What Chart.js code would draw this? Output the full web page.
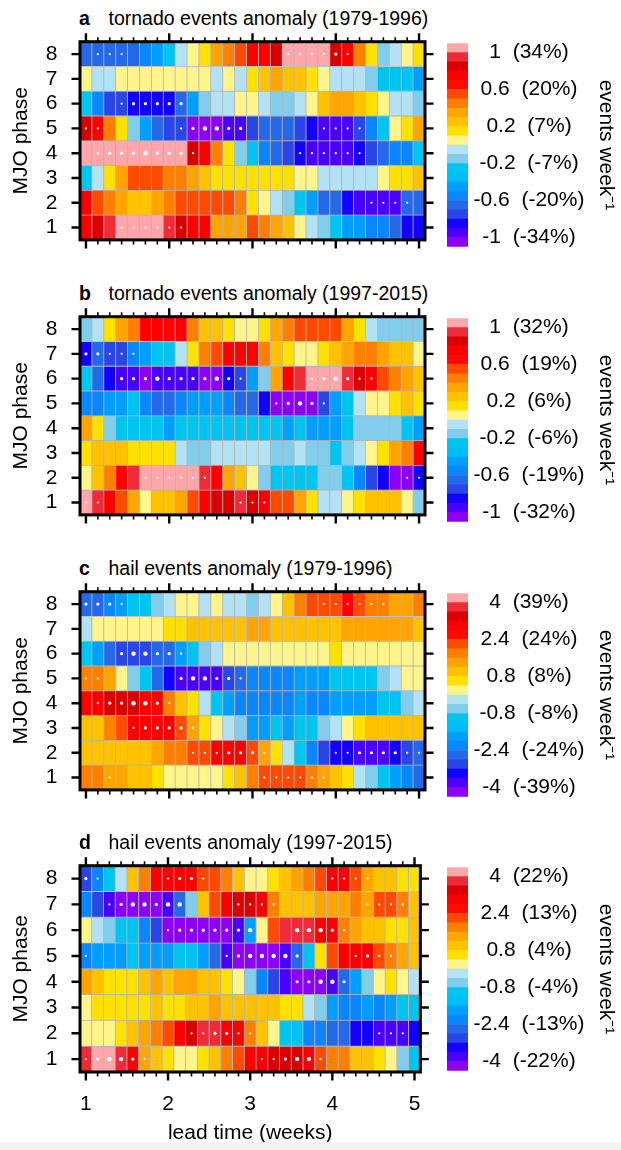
<!DOCTYPE html>
<html>
<head>
<meta charset="utf-8">
<script src="https://cdn.jsdelivr.net/npm/chart.js@4.4.1/dist/chart.umd.min.js"></script>
<style>
  body { margin: 0; background: #fff; width: 621px; height: 1150px; overflow: hidden; position: relative;
         font-family: "Liberation Sans", Arial, Helvetica, sans-serif; color: #000; }
  .panel { position: absolute; left: 0; width: 621px; }
  .panel canvas { position: absolute; top: 0; }
  .ttl { position: absolute; top: 8.2px; font-size: 19.5px; line-height: 20px; white-space: nowrap; }
  .ttl b { position: absolute; left: 79px; }
  .ttl span { position: absolute; left: 108.5px; }
  .foot { position: absolute; left: 0; top: 1142px; width: 621px; height: 8px; background: #f4f4f4; }
</style>
</head>
<body>

<div class="panel" style="top:0px;height:275px">
  <div class="ttl"><b>a</b><span>tornado events anomaly (1979-1996)</span></div>
  <canvas id="hmA" width="440" height="275" style="left:0"></canvas>
  <canvas id="cbA" width="181" height="275" style="left:440px"></canvas>
</div>
<div class="panel" style="top:275px;height:275px">
  <div class="ttl"><b>b</b><span>tornado events anomaly (1997-2015)</span></div>
  <canvas id="hmB" width="440" height="275" style="left:0"></canvas>
  <canvas id="cbB" width="181" height="275" style="left:440px"></canvas>
</div>
<div class="panel" style="top:550px;height:275px">
  <div class="ttl"><b>c</b><span>hail events anomaly (1979-1996)</span></div>
  <canvas id="hmC" width="440" height="275" style="left:0"></canvas>
  <canvas id="cbC" width="181" height="275" style="left:440px"></canvas>
</div>
<div class="panel" style="top:824px;height:325px">
  <div class="ttl"><b>d</b><span>hail events anomaly (1997-2015)</span></div>
  <canvas id="hmD" width="440" height="325" style="left:0"></canvas>
  <canvas id="cbD" width="181" height="325" style="left:440px"></canvas>
</div>
<div class="foot"></div>

<script>
// Lead time in days (1 to 5 weeks) and MJO phases
const leadDays = [7,8,9,10,11,12,13,14,15,16,17,18,19,20,21,22,23,24,25,26,27,28,29,30,31,32,33,34,35];
const weekTickDays = [7,14,21,28,35];
const phases = [1,2,3,4,5,6,7,8];

// Contour levels (events per week)
const levelsTornado = [-1,-0.9,-0.8,-0.7,-0.6,-0.5,-0.4,-0.3,-0.2,-0.1,0,0.1,0.2,0.3,0.4,0.5,0.6,0.7,0.8,0.9,1];
const levelsHail = [-4,-3.6,-3.2,-2.8,-2.4,-2,-1.6,-1.2,-0.8,-0.4,0,0.4,0.8,1.2,1.6,2,2.4,2.8,3.2,3.6,4];

// Colorbar labels
const cbTicksTornado = [-1,-0.6,-0.2,0.2,0.6,1];
const cbTicksHail = [-4,-2.4,-0.8,0.8,2.4,4];
const pctA = ['-34%','-20%','-7%','7%','20%','34%'];
const pctB = ['-32%','-19%','-6%','6%','19%','32%'];
const pctC = ['-39%','-24%','-8%','8%','24%','39%'];
const pctD = ['-22%','-13%','-4%','4%','13%','22%'];

// Tornado event anomaly, 1979-1996 (rows: phase 1..8, columns: lead day 7..35)
const tornado7996 = [
  [0.75,0.85,0.95,1.15,1.15,1.15,1.15,0.95,0.85,0.75,0.75,0.35,0.35,0.35,0.55,0.45,0.35,0.25,0.05,-0.05,-0.15,-0.3,-0.45,-0.45,-0.55,-0.55,-0.65,-0.85,-0.85],
  [0.75,0.55,0.45,0.35,0.25,0.25,0.35,0.45,0.55,0.55,0.55,0.55,0.55,0.45,0.15,0.05,-0.05,-0.15,-0.3,-0.45,-0.65,-0.65,-0.85,-0.95,-0.95,-0.95,-0.95,-0.65,-0.65],
  [-0.3,-0.05,0.15,0.35,0.55,0.55,0.55,0.45,0.45,0.35,0.25,0.15,0.15,0.15,0.15,0.15,0.15,0.15,0.05,0.05,-0.05,-0.05,-0.05,-0.05,-0.05,0.05,0.15,0.15,0.25],
  [1.15,1.15,1.15,1.15,1.15,1.15,1.15,1.15,1.15,0.85,0.75,0.45,0.15,-0.15,-0.3,-0.55,-0.65,-0.75,-0.85,-0.95,-0.95,-0.95,-0.95,-0.85,-0.75,-0.65,-0.55,-0.55,-0.3],
  [0.85,0.75,0.45,0.15,-0.15,-0.45,-0.65,-0.75,-0.75,-1.15,-1.15,-1.15,-0.95,-0.95,-0.75,-0.65,-0.65,-0.65,-0.75,-0.85,-0.95,-0.95,-0.95,-0.75,-0.55,-0.3,0.05,0.15,0.35],
  [-0.3,-0.55,-0.75,-0.75,-0.85,-0.85,-0.85,-0.85,-0.65,-0.45,-0.15,-0.05,-0.05,0.05,0.05,-0.05,-0.15,-0.15,-0.05,0.05,0.25,0.35,0.35,0.25,0.15,0.05,-0.05,-0.05,-0.15],
  [0.05,-0.05,-0.05,0.05,0.05,0.05,0.05,0.05,0.05,0.05,0.05,-0.05,0.05,-0.05,0.15,0.25,0.35,0.25,0.25,0.15,0.05,-0.05,-0.05,-0.05,-0.15,-0.3,-0.3,-0.3,-0.45],
  [-0.65,-0.65,-0.65,-0.65,-0.65,-0.55,-0.45,-0.3,-0.05,0.05,0.15,0.35,0.45,0.55,0.75,0.75,0.85,1.15,1.15,1.15,1.15,0.85,0.75,0.45,0.15,-0.15,-0.05,0.05,0.15]
];

// Tornado event anomaly, 1997-2015
const tornado9715 = [
  [1.15,0.95,0.75,0.55,0.35,0.05,0.25,0.25,0.35,0.55,0.75,0.85,0.85,0.95,0.85,0.75,0.55,0.55,0.35,0.15,-0.05,-0.05,0.05,0.15,0.25,0.25,0.25,0.05,-0.15],
  [0.05,0.25,0.45,0.75,0.95,1.15,1.15,1.15,1.15,1.15,0.95,0.75,0.35,0.25,0.05,-0.15,-0.3,-0.3,-0.3,-0.3,-0.15,-0.15,-0.3,-0.55,-0.75,-0.85,-1.15,-1.15,-0.85],
  [0.15,0.25,0.25,0.25,0.15,0.15,0.15,0.15,-0.05,-0.15,-0.15,-0.05,-0.05,-0.05,-0.05,-0.05,-0.15,-0.15,-0.05,-0.15,-0.15,-0.3,-0.15,-0.05,0.05,0.15,0.35,0.45,0.75],
  [0.35,0.15,-0.15,-0.3,-0.3,-0.3,-0.3,-0.45,-0.3,-0.3,-0.3,-0.3,-0.3,-0.3,-0.3,-0.3,-0.3,-0.45,-0.3,-0.45,-0.45,-0.45,-0.3,-0.15,-0.15,-0.15,-0.15,-0.3,-0.45],
  [-0.55,-0.55,-0.45,-0.45,-0.3,-0.55,-0.65,-0.65,-0.55,-0.45,-0.45,-0.45,-0.55,-0.65,-0.65,-0.85,-1.15,-1.15,-1.15,-1.15,-0.75,-0.45,-0.3,-0.05,0.05,0.05,0.15,0.25,0.15],
  [-0.3,-0.65,-0.85,-0.95,-0.95,-1.15,-0.95,-0.95,-0.95,-0.95,-1.15,-1.15,-0.85,-0.75,-0.45,-0.15,0.35,0.75,0.95,1.15,1.15,1.15,0.95,0.85,0.75,0.55,0.45,0.35,0.25],
  [-0.85,-0.65,-0.75,-0.75,-0.55,-0.45,-0.3,-0.3,-0.05,0.15,0.45,0.55,0.75,0.75,0.75,0.45,0.25,0.15,0.05,0.05,0.15,0.25,0.35,0.45,0.45,0.35,0.25,0.25,0.05],
  [-0.15,-0.05,0.15,0.35,0.45,0.75,0.75,0.75,0.75,0.45,0.25,0.25,0.15,0.05,0.05,0.15,0.35,0.45,0.55,0.55,0.55,0.55,0.35,0.15,-0.05,-0.15,-0.15,-0.15,-0.15]
];

// Hail event anomaly, 1979-1996
const hail7996 = [
  [1.8,1.8,1.4,1.4,1.0,1.0,0.6,0.2,0.2,0.2,0.2,0.2,0.6,1.0,1.8,2.2,2.2,2.2,2.2,1.8,1.4,1.0,0.6,-0.2,-0.6,-1.2,-1.8,-2.2,-2.6],
  [1.0,1.0,1.0,1.0,1.0,1.0,1.4,1.8,1.8,2.2,2.2,3.0,3.0,3.0,2.2,1.4,0.6,-0.2,-1.2,-2.2,-3.0,-3.4,-3.4,-3.8,-3.8,-3.8,-3.4,-3.0,-2.6],
  [1.0,1.0,1.8,2.2,3.0,3.0,3.0,3.0,2.2,1.4,0.6,0.2,-0.2,-0.6,-1.8,-1.8,-1.2,-1.8,-1.2,-1.2,-0.6,-0.2,0.2,0.6,1.0,1.0,1.0,1.0,1.0],
  [3.0,3.0,3.4,3.4,3.4,3.0,3.0,1.8,1.0,0.6,-0.2,-1.2,-1.8,-2.2,-2.2,-2.2,-2.2,-2.2,-1.8,-2.2,-2.2,-1.8,-1.8,-1.8,-1.8,-1.2,-1.2,-0.6,-0.2],
  [1.8,1.8,1.4,0.2,-0.6,-1.2,-2.6,-3.4,-3.8,-3.8,-3.8,-3.8,-3.0,-2.6,-2.2,-2.2,-2.2,-2.2,-1.8,-1.8,-1.8,-1.2,-1.2,-1.2,-1.2,-0.6,-0.2,0.2,0.2],
  [-1.2,-1.8,-2.6,-3.0,-3.0,-3.0,-2.6,-2.6,-1.8,-1.2,-0.6,-0.2,0.2,0.2,0.2,0.2,0.2,0.2,0.2,0.2,0.2,0.6,0.2,0.2,0.2,0.2,0.2,0.2,0.2],
  [-0.2,0.2,0.2,0.2,0.2,0.2,0.2,0.6,0.6,1.0,1.0,1.0,1.0,1.0,1.4,1.4,1.0,1.0,1.0,1.0,1.0,1.0,1.4,1.4,1.4,1.4,1.4,1.4,1.0],
  [-2.6,-2.6,-2.2,-1.8,-1.2,-1.2,-0.6,-0.2,0.2,0.2,-0.2,0.2,-0.2,-0.2,-0.6,-0.2,0.2,1.0,1.8,2.2,2.2,2.2,3.0,2.2,1.8,1.8,1.4,1.4,1.8]
];

// Hail event anomaly, 1997-2015
const hail9715 = [
  [3.8,4.6,4.6,3.8,3.0,1.4,1.0,0.6,0.2,0.2,0.6,1.0,1.8,2.2,3.0,3.0,3.4,3.4,3.4,3.0,2.2,1.8,1.8,1.0,1.0,0.6,0.2,-0.6,-1.2],
  [0.2,0.2,0.2,0.6,1.0,1.4,1.8,2.2,3.0,3.4,3.8,3.8,3.0,3.0,1.8,1.0,0.2,-1.2,-1.2,-2.2,-2.2,-2.6,-2.6,-3.4,-3.4,-3.8,-3.8,-3.8,-3.4],
  [0.2,0.6,0.6,0.6,0.6,0.6,1.0,0.6,0.6,1.0,1.0,1.4,1.0,1.0,1.0,1.0,1.0,0.6,0.6,-0.2,-0.6,-1.8,-2.2,-2.2,-1.8,-2.2,-1.8,-1.2,-1.2],
  [1.4,1.0,0.6,0.6,0.6,1.0,1.4,1.0,1.4,1.4,1.0,1.0,0.6,0.2,-0.6,-2.2,-3.0,-3.8,-4.6,-4.6,-4.6,-3.8,-2.6,-1.8,-0.6,0.2,0.6,0.2,-0.2],
  [-2.2,-1.8,-1.8,-1.8,-1.2,-1.8,-1.8,-1.8,-1.2,-1.2,-1.8,-2.6,-3.8,-4.6,-4.6,-4.6,-4.6,-3.8,-2.6,-1.2,0.6,2.2,3.0,3.0,3.0,2.2,1.8,1.4,1.0],
  [0.2,-0.2,-0.6,-1.2,-1.2,-2.2,-3.0,-4.6,-4.6,-4.6,-4.6,-4.6,-4.6,-3.8,-1.8,0.2,2.2,3.8,3.8,3.8,3.0,3.0,1.8,1.4,1.0,1.0,0.6,0.6,1.0],
  [-2.2,-3.0,-3.8,-4.6,-4.6,-4.6,-4.6,-3.8,-2.6,-0.6,1.0,2.2,3.0,3.4,3.4,3.0,1.8,1.0,1.0,1.0,1.4,1.4,1.4,1.8,1.4,2.2,2.2,1.8,1.0],
  [-3.0,-2.2,-1.2,-0.2,1.0,1.8,3.0,3.0,3.0,3.0,2.2,2.2,1.8,1.0,0.2,0.2,0.6,1.0,1.4,1.8,2.2,3.0,3.0,2.2,1.4,1.0,1.0,0.6,0.6]
];

// Significant cells: [lead day, phase, significance level 1..3]
const sigTornado7996 = [
  [8,8,1],[9,8,1],[10,8,1],[24,8,1],[25,8,1],[26,8,1],[27,8,1],[28,8,2],[29,8,1],
  [10,6,1],[11,6,2],[12,6,2],[13,6,2],[14,6,2],[15,6,2],
  [7,5,1],[8,5,1],[15,5,1],[16,5,2],[17,5,3],[18,5,3],[19,5,2],[20,5,2],[27,5,1],[28,5,1],[29,5,1],[30,5,1],
  [8,4,1],[9,4,2],[10,4,2],[11,4,2],[12,4,3],[13,4,2],[14,4,2],[15,4,2],[16,4,1],[25,4,1],[26,4,1],[27,4,1],[28,4,1],[29,4,1],[30,4,1],
  [31,2,1],[32,2,1],[33,2,1],[34,2,1],
  [10,1,1],[11,1,1],[12,1,1],[13,1,1],[14,1,1],[15,1,1]
];
const sigTornado9715 = [
  [7,7,2],[8,7,2],[9,7,1],[10,7,1],[11,7,1],
  [10,6,2],[11,6,2],[12,6,2],[13,6,3],[14,6,2],[15,6,2],[16,6,2],[17,6,2],[18,6,3],[19,6,2],[20,6,1],[26,6,1],[27,6,2],[28,6,3],[29,6,2],[30,6,1],[31,6,1],
  [23,5,1],[24,5,2],[25,5,3],[26,5,2],[27,5,1],
  [12,2,1],[13,2,1],[14,2,1],[15,2,1],[16,2,1],[17,2,1],[34,2,1],[35,2,1],
  [7,1,1],[8,1,1],[20,1,1],[21,1,1],[22,1,1]
];
const sigHail7996 = [
  [7,8,2],[8,8,2],[9,8,2],[10,8,1],[27,8,1],[28,8,1],[29,8,1],[30,8,1],[31,8,1],[32,8,1],
  [10,6,2],[11,6,3],[12,6,3],[13,6,2],[14,6,2],[15,6,1],
  [7,5,1],[8,5,1],[15,5,2],[16,5,3],[17,5,3],[18,5,2],[19,5,2],[20,5,1],
  [8,4,1],[9,4,2],[10,4,2],[11,4,3],[12,4,3],[13,4,2],[14,4,1],
  [11,3,1],[12,3,2],[13,3,2],[14,3,2],[15,3,2],[16,3,1],
  [16,2,1],[17,2,1],[18,2,1],[19,2,2],[20,2,2],[21,2,2],[22,2,1],[28,2,1],[29,2,1],[30,2,2],[31,2,2],[32,2,2],[33,2,2],[34,2,1],[35,2,1],
  [9,1,1],[22,1,1],[23,1,1],[24,1,1],[25,1,1],[26,1,1],[27,1,1]
];
const sigHail9715 = [
  [7,8,2],[8,8,1],[14,8,1],[15,8,2],[16,8,2],[17,8,1],[28,8,1],[29,8,1],[30,8,1],[31,8,1],
  [9,7,1],[10,7,2],[11,7,3],[12,7,3],[13,7,2],[14,7,3],[15,7,3],[20,7,1],[21,7,1],[22,7,1],[23,7,1],[31,7,1],[32,7,1],[33,7,1],[34,7,1],
  [14,6,1],[15,6,2],[16,6,2],[17,6,2],[18,6,2],[19,6,2],[20,6,2],[21,6,3],[25,6,3],[26,6,3],[27,6,3],[28,6,2],[29,6,1],
  [7,5,1],[19,5,1],[20,5,2],[21,5,3],[22,5,3],[23,5,3],[24,5,3],[25,5,2],[30,5,1],[31,5,2],[32,5,1],[33,5,1],
  [25,4,2],[26,4,2],[27,4,3],[28,4,3],[29,4,2],
  [16,2,1],[17,2,1],[18,2,2],[19,2,2],[20,2,1],[21,2,1],[32,2,1],[33,2,1],[34,2,1],
  [7,1,1],[8,1,2],[9,1,3],[10,1,3],[11,1,2],[12,1,1],[22,1,1],[23,1,1],[24,1,2],[25,1,3],[26,1,3],[27,1,1]
];

// 22-colour palette, lowest to highest bin
const palette = ['#8c00f5','#4a00ff','#1400ff','#2a46e6','#2568e8','#0a86ff','#009eff','#00bdf5','#00c4f0','#82cdec','#b4e2f5',
                 '#fff58c','#ffe100','#ffc200','#ffa400','#ff8000','#ff4a00','#ff0a00','#ff0000','#d90000','#ef2b3a','#ffa7aa'];

const FONT = '"Liberation Sans", Arial, Helvetica, sans-serif';
Chart.defaults.font.family = FONT;
Chart.defaults.color = '#000';

function colorFor(v, levels) {
  let i = 0;
  while (i < levels.length && v >= levels[i]) i++;
  return palette[i];
}

const dotRadius = {1: 1.1, 2: 1.6, 3: 2.2};

// Black frame plus outward tick marks on all four sides
const frameTicks = {
  id: 'frameTicks',
  afterDraw(chart) {
    const {ctx, chartArea: a, scales: {x, y}} = chart;
    ctx.save();
    ctx.strokeStyle = '#000';
    leadDays.forEach(d => {
      const px = x.getPixelForValue(d);
      const major = weekTickDays.includes(d);
      const len = major ? 8.5 : 4.5;
      ctx.lineWidth = major ? 2.4 : 1.6;
      ctx.beginPath();
      ctx.moveTo(px, a.top); ctx.lineTo(px, a.top - len);
      ctx.moveTo(px, a.bottom); ctx.lineTo(px, a.bottom + len);
      ctx.stroke();
    });
    ctx.lineWidth = 2.4;
    phases.forEach(p => {
      const py = y.getPixelForValue(p);
      ctx.beginPath();
      ctx.moveTo(a.left, py); ctx.lineTo(a.left - 8.5, py);
      ctx.moveTo(a.right, py); ctx.lineTo(a.right + 8.5, py);
      ctx.stroke();
    });
    ctx.lineWidth = 3;
    ctx.strokeRect(a.left, a.top, a.right - a.left, a.bottom - a.top);
    ctx.restore();
  }
};

function heatmap(id, rows, levels, sig, showX) {
  const datasets = [{
    type: 'scatter',
    order: 0,
    data: sig.map(([d, p, lvl]) => ({x: d, y: p, level: lvl})),
    backgroundColor: '#fff',
    borderWidth: 0,
    pointRadius: ctx => (ctx.raw ? dotRadius[ctx.raw.level] : 1),
    pointHoverRadius: ctx => (ctx.raw ? dotRadius[ctx.raw.level] : 1)
  }];
  phases.forEach((p, i) => {
    datasets.push({
      type: 'bar',
      order: 1,
      data: leadDays.map((d, k) => ({x: d, y: [p - 0.5, p + 0.5], v: rows[i][k]})),
      backgroundColor: ctx => (ctx.raw ? colorFor(ctx.raw.v, levels) : '#fff'),
      borderColor: '#b3b3b3',
      borderWidth: 0.75,
      borderSkipped: false,
      barPercentage: 1,
      categoryPercentage: 1,
      grouped: false
    });
  });
  const canvas = document.getElementById(id);
  return new Chart(canvas, {
    type: 'bar',
    data: {datasets},
    plugins: [frameTicks],
    options: {
      responsive: false,
      animation: false,
      events: [],
      layout: {padding: {left: 0, right: 15, top: 41.7, bottom: showX ? 0 : canvas.height - 248}},
      plugins: {legend: {display: false}, tooltip: {enabled: false}},
      scales: {
        x: {
          type: 'linear', min: 6.5, max: 35.5, offset: false, display: showX,
          afterBuildTicks: s => { s.ticks = weekTickDays.map(v => ({value: v})); },
          ticks: {callback: v => String(v / 7), font: {size: 21}, color: '#000', padding: 19.4, maxRotation: 0, autoSkip: false},
          grid: {display: false, drawTicks: false},
          border: {display: false},
          title: {display: showX, text: 'lead time (weeks)', font: {size: 21}, color: '#000', padding: {top: 0, bottom: 3.4}},
          afterFit: s => { if (showX) s.height = canvas.height - 248; }
        },
        y: {
          type: 'linear', min: 0.5, max: 8.5, beginAtZero: false,
          afterBuildTicks: s => { s.ticks = phases.map(v => ({value: v})); },
          ticks: {font: {size: 21}, color: '#000', padding: 22.5},
          grid: {display: false, drawTicks: false},
          border: {display: false},
          title: {display: true, text: 'MJO phase', font: {size: 21}, color: '#000', padding: {top: 9, bottom: 0}},
          afterFit: s => { s.width = 80; }
        }
      }
    }
  });
}

function colorbar(id, levels, tickVals, pcts) {
  const step = levels[1] - levels[0];
  const edges = [levels[0] - step, ...levels, levels[levels.length - 1] + step];
  const datasets = palette.map((c, i) => ({
    data: [[edges[i], edges[i + 1]]],
    backgroundColor: c,
    borderWidth: 0,
    barPercentage: 1,
    categoryPercentage: 1,
    grouped: false
  }));
  const canvas = document.getElementById(id);
  return new Chart(canvas, {
    type: 'bar',
    data: {labels: [''], datasets},
    options: {
      responsive: false,
      animation: false,
      events: [],
      layout: {padding: {left: 7, right: 0, top: 43.3, bottom: 248 - 246.7 + (canvas.height - 248)}},
      plugins: {legend: {display: false}, tooltip: {enabled: false}},
      scales: {
        x: {display: false},
        y: {
          position: 'right',
          min: edges[0], max: edges[edges.length - 1], beginAtZero: false,
          afterBuildTicks: s => { s.ticks = tickVals.map(v => ({value: v})); },
          ticks: {callback: (v, i) => v + '  (' + pcts[i] + ')', crossAlign: 'center', padding: 5.6, font: {size: 21}, color: '#000'},
          grid: {display: false, drawTicks: false},
          border: {display: false},
          title: {display: true, text: 'events week\u207B\u00B9', font: {size: 21}, color: '#000', padding: {top: 2.4, bottom: 0}},
          afterFit: s => { s.width = 153; }
        }
      }
    }
  });
}

heatmap('hmA', tornado7996, levelsTornado, sigTornado7996, false);
heatmap('hmB', tornado9715, levelsTornado, sigTornado9715, false);
heatmap('hmC', hail7996, levelsHail, sigHail7996, false);
heatmap('hmD', hail9715, levelsHail, sigHail9715, true);

colorbar('cbA', levelsTornado, cbTicksTornado, pctA);
colorbar('cbB', levelsTornado, cbTicksTornado, pctB);
colorbar('cbC', levelsHail, cbTicksHail, pctC);
colorbar('cbD', levelsHail, cbTicksHail, pctD);
</script>
</body>
</html>
